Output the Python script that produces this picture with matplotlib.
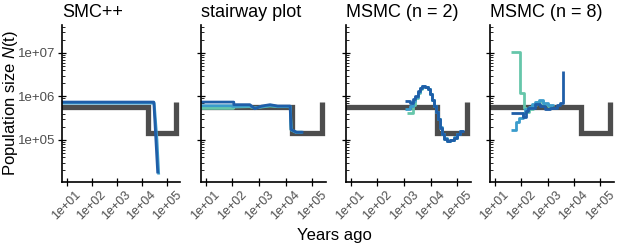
import numpy as np
import matplotlib
matplotlib.use("Agg")
import matplotlib.pyplot as plt
from matplotlib.ticker import FixedLocator, LogLocator, NullFormatter

plt.rcParams['font.family'] = ['Liberation Sans', 'DejaVu Sans']
plt.rcParams['mathtext.fontset'] = 'custom'
plt.rcParams['mathtext.rm'] = 'Liberation Sans'
plt.rcParams['mathtext.it'] = 'Liberation Sans:italic'

# --- data ---
panel_titles = ["SMC++", "stairway plot", "MSMC (n = 2)", "MSMC (n = 8)"]
xtick_vals = [1e1, 1e2, 1e3, 1e4, 1e5]
xtick_labels = ["1e+01", "1e+02", "1e+03", "1e+04", "1e+05"]
ytick_vals = [1e5, 1e6, 1e7]
ytick_labels = ["1e+05", "1e+06", "1e+07"]

# true bottleneck model (steps)
truth_t = [1, 1.8e4, 2.3e5, 2.3e5]
truth_n = [5.6e5, 1.45e5, 7.3e5, 7.3e5]

# SMC++ replicates (lines)
smc_mid_t = [1, 3.1e4, 4.0e4, 4.7e4]
smc_mid_n = [7.0e5, 7.0e5, 1.0e5, 1.6e4]
smc_dark_t = [1, 3.0e4, 4.3e4]
smc_dark_n = [7.4e5, 7.4e5, 1.7e4]

# stairway plot replicates (lines)
sw_teal_t = [1, 110, 110, 455, 700, 1260, 2600, 5000, 1.5e4, 1.6e4, 2.5e4, 4.4e4]
sw_teal_n = [5.3e5, 5.3e5, 5.7e5, 5.8e5, 5.4e5, 5.7e5, 6.0e5, 5.8e5, 5.8e5, 1.7e5, 1.5e5, 1.5e5]
sw_mid_t = [1, 100, 100, 455, 700, 1260, 2600, 5000, 1.5e4, 1.65e4, 2.4e4, 4.2e4]
sw_mid_n = [6.1e5, 6.1e5, 5.9e5, 6.0e5, 5.4e5, 5.8e5, 6.2e5, 5.9e5, 5.9e5, 1.7e5, 1.5e5, 1.5e5]
sw_dark_t = [1, 113, 113, 455, 700, 1260, 2600, 5000, 1.48e4, 1.6e4, 2.6e4, 4.7e4]
sw_dark_n = [7.4e5, 7.4e5, 6.45e5, 6.45e5, 5.2e5, 6.0e5, 6.45e5, 6.0e5, 6.0e5, 1.74e5, 1.5e5, 1.5e5]

# MSMC n = 2 replicates (steps)
m2_teal_t = [1300, 1680, 2250, 2600, 3280, 4020, 4920, 6200, 7800, 9600, 11700, 14000,
             16600, 19800, 23500, 28000, 33000, 41000, 55000, 73000, 97000, 120000]
m2_teal_n = [4.2e5, 4.2e5, 6.5e5, 9.0e5, 1.2e6, 1.5e6, 1.68e6, 1.66e6, 1.45e6, 1.12e6, 8.3e5, 6.1e5,
             4.4e5, 3.0e5, 1.9e5, 1.35e5, 1.07e5, 9.5e4, 9.9e4, 1.12e5, 1.35e5, 1.35e5]
m2_mid_t = [1090, 1680, 2250, 2600, 3280, 4020, 4920, 6200, 7800, 9600, 11700, 14000,
            16600, 19800, 23500, 28000, 33000, 41000, 55000, 73000, 97000, 130000, 165000]
m2_mid_n = [5.2e5, 6.0e5, 8.0e5, 9.5e5, 1.25e6, 1.52e6, 1.70e6, 1.68e6, 1.47e6, 1.13e6, 8.4e5, 6.1e5,
            4.4e5, 3.0e5, 1.95e5, 1.36e5, 1.08e5, 9.6e4, 1.0e5, 1.14e5, 1.36e5, 1.6e5, 1.6e5]
m2_dark_t = [1090, 1680, 2250, 2600, 3280, 4020, 4920, 6200, 7800, 9600, 11700, 14000,
             16600, 19800, 23500, 28000, 33000, 41000, 55000, 73000, 97000, 130000, 173000]
m2_dark_n = [7.8e5, 7.1e5, 8.9e5, 1.02e6, 1.32e6, 1.58e6, 1.73e6, 1.67e6, 1.45e6, 1.11e6, 8.2e5, 6.0e5,
             4.4e5, 3.0e5, 1.9e5, 1.34e5, 1.06e5, 9.4e4, 9.9e4, 1.12e5, 1.34e5, 1.6e5, 1.6e5]

# MSMC n = 8 replicates (steps)
m8_teal_t = [43, 93, 124, 150, 200, 280, 380, 500, 700, 1000, 1400]
m8_teal_n = [1.04e7, 1.22e6, 5.5e5, 4.3e5, 5.0e5, 6.5e5, 7.6e5, 7.8e5, 6.8e5, 6.0e5, 6.0e5]
m8_mid_t = [43, 64, 85, 114, 145, 200, 257, 350, 457, 700, 1000, 1600]
m8_mid_n = [1.68e5, 2.57e5, 3.2e5, 4.1e5, 5.0e5, 5.8e5, 6.55e5, 7.6e5, 8.2e5, 7.1e5, 6.3e5, 6.0e5]
m8_dark_t = [43, 114, 150, 190, 346, 525, 815, 1260, 2250, 3000, 4000]
m8_dark_n = [4.2e5, 3.4e5, 4.5e5, 5.5e5, 6.55e5, 6.0e5, 5.0e5, 5.5e5, 6.2e5, 7.2e5, 3.8e6]

truth_color = "#4d4d4d"
rep_colors = ["#66c6aa", "#3a9ccc", "#1f5ea8"]

panels = [
    ([(smc_mid_t, smc_mid_n), (smc_dark_t, smc_dark_n)], "default", rep_colors[1:]),
    ([(sw_teal_t, sw_teal_n), (sw_mid_t, sw_mid_n), (sw_dark_t, sw_dark_n)], "default", rep_colors),
    ([(m2_teal_t, m2_teal_n), (m2_mid_t, m2_mid_n), (m2_dark_t, m2_dark_n)], "steps-post", rep_colors),
    ([(m8_teal_t, m8_teal_n), (m8_mid_t, m8_mid_n), (m8_dark_t, m8_dark_n)], "steps-post", rep_colors),
]

W, H = 617, 245
fig = plt.figure(figsize=(W / 100, H / 100), dpi=100)

lefts = [62, 201, 346, 490]
widths = [118, 125, 125, 124]
bottom_px, top_px = 181.7, 25

for i, (reps, ds, cols) in enumerate(panels):
    ax = fig.add_axes([lefts[i] / W, (H - bottom_px) / H, widths[i] / W, (bottom_px - top_px) / H])
    ax.set_xscale("log")
    ax.set_yscale("log")

    ax.plot(truth_t, truth_n, drawstyle="steps-post", color=truth_color, lw=3.8,
            solid_capstyle="butt", solid_joinstyle="miter")
    for (t, n), c in zip(reps, cols):
        ax.plot(t, n, drawstyle=ds, color=c, lw=2.0, solid_capstyle="butt")

    ax.set_xlim(10 ** 0.82, 10 ** 5.52)
    ax.set_ylim(10 ** 4.04, 10 ** 7.64)

    ax.xaxis.set_major_locator(FixedLocator(xtick_vals))
    ax.set_xticklabels(xtick_labels, rotation=45)
    ax.yaxis.set_major_locator(FixedLocator(ytick_vals))
    if i == 0:
        ax.set_yticklabels(ytick_labels)
    else:
        ax.set_yticklabels([])
    for a in (ax.xaxis, ax.yaxis):
        a.set_minor_locator(LogLocator(base=10, subs=np.arange(2, 10)))
        a.set_minor_formatter(NullFormatter())

    ax.tick_params(which="major", direction="inout", length=6, width=0.9,
                   labelsize=9.5, labelcolor="#4d4d4d", pad=2)
    ax.tick_params(axis="x", which="major", labelsize=9)
    ax.tick_params(which="minor", direction="in", length=2.5, width=0.6)

    for s in ("top", "right"):
        ax.spines[s].set_visible(False)
    for s in ("left", "bottom"):
        ax.spines[s].set_linewidth(1.2)
    ax.set_facecolor("none")

    ax.set_title(panel_titles[i], loc="left", fontsize=13, pad=6)

fig.text(11 / W, 1 - 102.5 / H, "Population size $N$(t)", rotation=90,
         ha="center", va="center", fontsize=12)
fig.text(334 / W, 1 - 235 / H, "Years ago", ha="center", va="center", fontsize=12)

fig.savefig("out.png", dpi=100)
